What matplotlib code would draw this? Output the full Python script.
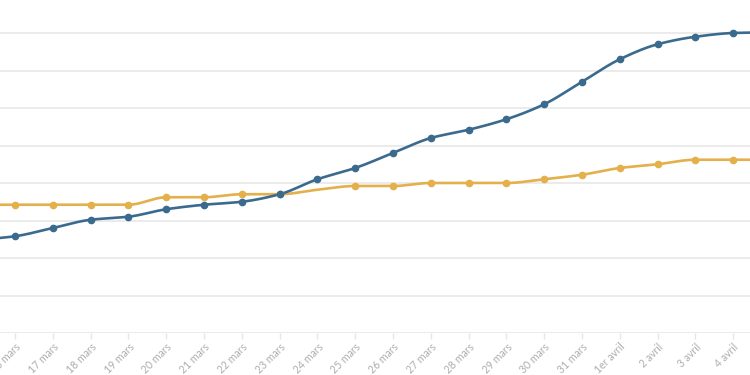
import numpy as np
import matplotlib
matplotlib.use("Agg")
import matplotlib.pyplot as plt

# Données, du 15 mars au 5 avril
jours = ["15 mars", "16 mars", "17 mars", "18 mars", "19 mars", "20 mars", "21 mars",
         "22 mars", "23 mars", "24 mars", "25 mars", "26 mars", "27 mars", "28 mars",
         "29 mars", "30 mars", "31 mars", "1er avril", "2 avril", "3 avril", "4 avril",
         "5 avril"]
serie_bleue = [124, 129, 140, 151, 155, 165, 171, 175, 185, 205, 220, 240, 260, 271,
               285, 305, 335, 365, 385, 395, 400, 401]
serie_jaune = [171, 171, 171, 171, 171, 181, 181, 185, 185, 191, 196, 196, 200, 200,
               200, 205, 211, 220, 225, 231, 231, 231]

BLEU = "#3b6a8f"
JAUNE = "#e3b04b"


def monotone(x, y, n=20):
    # courbe monotone (type d3.curveMonotoneX) pour le tracé
    x = np.asarray(x, float)
    y = np.asarray(y, float)
    h = np.diff(x)
    d = np.diff(y) / h
    m = np.zeros_like(y)
    m[0], m[-1] = d[0], d[-1]
    for k in range(1, len(y) - 1):
        if d[k - 1] * d[k] <= 0:
            m[k] = 0
        else:
            m[k] = (3 * (h[k - 1] + h[k])) / ((2 * h[k] + h[k - 1]) / d[k - 1] + (h[k] + 2 * h[k - 1]) / d[k])
    xs, ys = [], []
    for k in range(len(h)):
        t = np.linspace(0, 1, n, endpoint=False)
        h00 = 2 * t**3 - 3 * t**2 + 1
        h10 = t**3 - 2 * t**2 + t
        h01 = -2 * t**3 + 3 * t**2
        h11 = t**3 - t**2
        xs.append(x[k] + t * h[k])
        ys.append(h00 * y[k] + h10 * h[k] * m[k] + h01 * y[k + 1] + h11 * h[k] * m[k + 1])
    xs.append([x[-1]])
    ys.append([y[-1]])
    return np.concatenate(xs), np.concatenate(ys)


x = np.arange(len(jours)) - 1

fig = plt.figure(figsize=(7.5, 3.75), dpi=100)
ax = fig.add_axes([0, 42 / 375, 1, 333 / 375])

for y_vals, c in [(serie_jaune, JAUNE), (serie_bleue, BLEU)]:
    xs, ys = monotone(x, y_vals)
    ax.plot(xs, ys, color=c, lw=1.9, zorder=3, solid_capstyle="round")

# pas de point pour le 24 mars sur la série jaune
idx_j = [i for i in range(len(jours)) if jours[i] != "24 mars"]
ax.plot(x[idx_j], np.array(serie_jaune)[idx_j], "o", color=JAUNE, ms=4.5, zorder=4)
ax.plot(x, serie_bleue, "o", color=BLEU, ms=4.5, zorder=4)

ax.set_xticks(x)
ax.set_xticklabels(jours, rotation=45, ha="right", rotation_mode="anchor",
                   fontsize=7.6, color="#adadad", family="Lato")
ax.tick_params(axis="x", length=4, color="#e6e6e6", width=1, pad=2)

ax.set_yticks(np.arange(0, 401, 50))
ax.yaxis.grid(True, color="#ebebeb", lw=1.4)
ax.set_axisbelow(True)
ax.tick_params(axis="y", left=False, labelleft=False)

ax.set_xlim(-15 / 37.8, 735 / 37.8)
ax.set_ylim(0, 444)

for s in ax.spines.values():
    s.set_visible(False)

fig.savefig("out.png", dpi=100)
